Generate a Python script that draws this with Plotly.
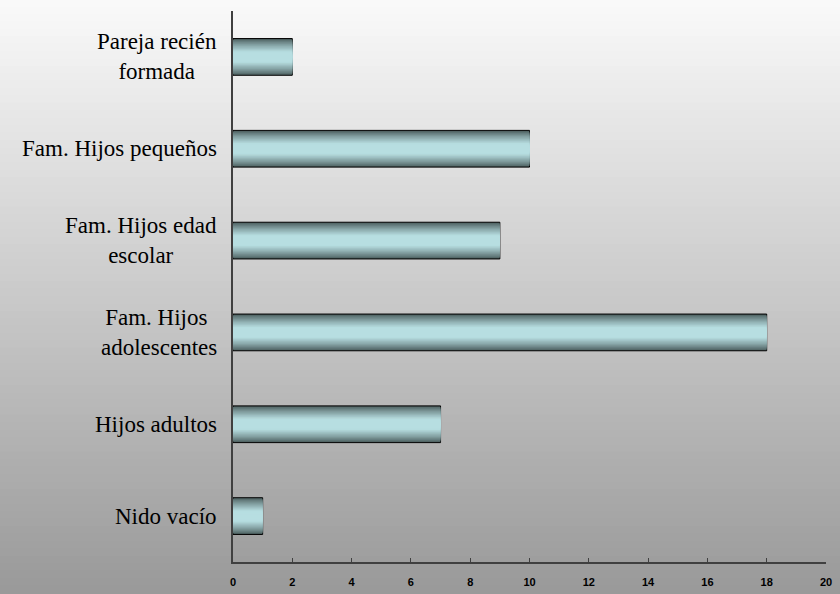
import plotly.graph_objects as go

categories = ["Pareja recién<br>formada", "Fam. Hijos pequeños", "Fam. Hijos edad<br>escolar",
              "Fam. Hijos <br>adolescentes", "Hijos adultos", "Nido vacío"]
values = [2, 10, 9, 18, 7, 1]
x_ticks = [0, 2, 4, 6, 8, 10, 12, 14, 16, 18, 20]

W, H = 840, 594
ML, MR, MT, MB = 233, 14, 11, 32
plot_w = W - ML - MR
plot_h = H - MT - MB

dark = (74, 92, 92)
light = (183, 222, 225)

def mix(a, b, f):
    return "rgb(%d,%d,%d)" % tuple(round(a[i] + (b[i] - a[i]) * f) for i in range(3))

fig = go.Figure()
N = 16
bar_w = 0.4
for k in range(N):
    w = bar_w * (1 - k / N)
    t = 1 - k / N  # distance from center
    f = min(1.0, max(0.0, (1 - t) / 0.7)) ** 0.8
    fig.add_trace(go.Bar(
        y=categories, x=values, orientation="h", width=w,
        marker=dict(color=mix(dark, light, f),
                    line=dict(color="#000000", width=1 if k == 0 else 0)),
        hoverinfo="skip", showlegend=False,
    ))

# background vertical gradient
shapes = []
nb = 80
for i in range(nb):
    y0px = i * H / nb
    y1px = (i + 1) * H / nb
    g = round(250 - 97 * ((y0px + y1px) / 2) / H)
    shapes.append(dict(type="rect", xref="paper", yref="paper",
                       x0=-1, x1=2,
                       y0=(H - MB - y1px) / plot_h - 0.002, y1=(H - MB - y0px) / plot_h + 0.002,
                       fillcolor="rgb(%d,%d,%d)" % (g, g, g), line=dict(width=0),
                       layer="below"))

annotations = []
for c in categories:
    annotations.append(dict(x=0, xref="paper", y=c, yref="y", text=c,
                            xanchor="right", yanchor="middle", align="center",
                            xshift=-14, showarrow=False,
                            font=dict(family="Liberation Serif", size=23, color="#000000")))

fig.update_layout(
    width=W, height=H,
    margin=dict(l=ML, r=MR, t=MT, b=MB, autoexpand=False),
    barmode="overlay",
    paper_bgcolor="rgb(153,153,153)",
    plot_bgcolor="rgba(0,0,0,0)",
    shapes=shapes,
    annotations=annotations,
    xaxis=dict(range=[0, 20], tickvals=x_ticks, ticks="inside", ticklen=4,
               tickcolor="#404040", showline=True, linecolor="#404040", linewidth=1.5,
               showgrid=False, zeroline=False, ticklabelstandoff=9,
               tickfont=dict(family="Liberation Sans", size=11, color="#000000", weight="bold")),
    yaxis=dict(autorange="reversed", showticklabels=False, showline=True,
               linecolor="#404040", linewidth=1.5, showgrid=False, ticks=""),
)

fig.write_html("out.html", config={"displayModeBar": False},
               post_script=("document.body.style.margin='0';"
                            "document.body.style.overflow='hidden';"
                            "var d=document.getElementById('{plot_id}');"
                            "d.style.position='fixed';d.style.left='0px';d.style.top='0px';"))
